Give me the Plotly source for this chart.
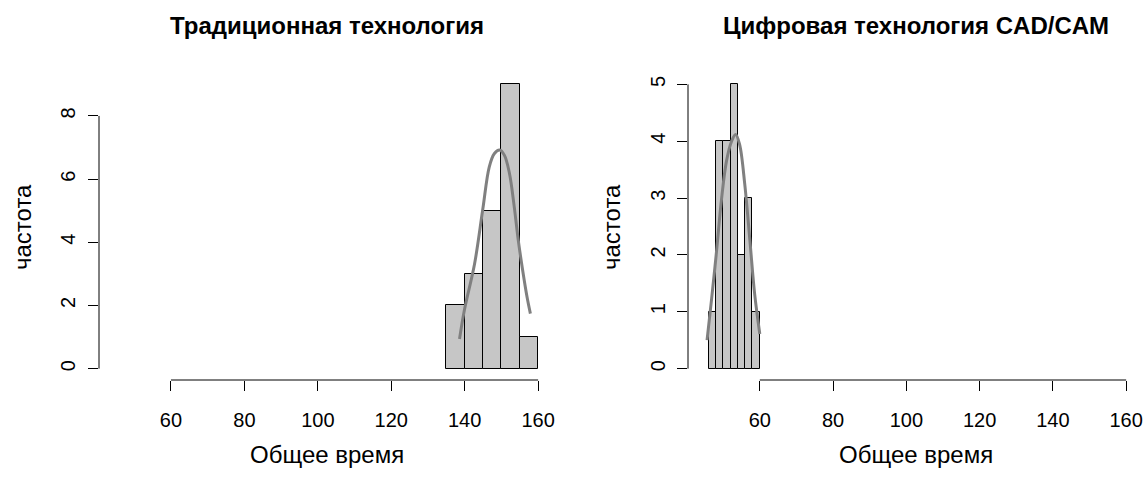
import plotly.graph_objects as go

# ---- data ----
trad_bin_centers = [137.5, 142.5, 147.5, 152.5, 157.5]
trad_counts = [2, 3, 5, 9, 1]
trad_bin_width = 5

cad_bin_centers = [47, 49, 51, 53, 55, 57, 59]
cad_counts = [1, 4, 4, 5, 2, 3, 1]
cad_bin_width = 2

trad_curve_x = [138.6, 139.9, 142.7, 144.9, 146.7, 148.1, 149.5, 150.8, 152.2, 153.5, 154.6, 155.8, 157.0, 157.9]
trad_curve_y = [0.94, 1.84, 3.32, 5.02, 6.39, 6.81, 6.92, 6.76, 6.18, 5.12, 4.06, 3.11, 2.26, 1.74]

cad_curve_x = [45.6, 46.8, 48.2, 49.5, 50.9, 52.3, 53.4, 54.5, 55.9, 57.3, 58.6, 60.0]
cad_curve_y = [0.50, 1.20, 2.07, 2.95, 3.65, 4.00, 4.12, 3.94, 3.24, 2.25, 1.31, 0.61]

x_ticks = [60, 80, 100, 120, 140, 160]
trad_y_ticks = [0, 2, 4, 6, 8]
cad_y_ticks = [0, 1, 2, 3, 4, 5]

titles = ["Традиционная технология", "Цифровая технология CAD/CAM"]
x_label = "Общее время"
y_label = "частота"

# ---- layout geometry ----
W, H = 1146, 477
FONT = "Liberation Sans, Arial, sans-serif"
BAR_COLOR = "#c6c6c6"
CURVE_COLOR = "#808080"
TICK_SIZE = 20
LABEL_SIZE = 24
TITLE_SIZE = 24

dom_y = [1 - 380 / H, 1 - 73 / H]
dom_x1 = [99 / W, 555 / W]
dom_x2 = [688 / W, 1143 / W]
x_range = [40.4, 164.6]

fig = go.Figure()

fig.add_trace(go.Bar(x=trad_bin_centers, y=trad_counts, width=trad_bin_width,
                     marker=dict(color=BAR_COLOR, line=dict(color="black", width=1)),
                     xaxis="x", yaxis="y", showlegend=False))
fig.add_trace(go.Scatter(x=trad_curve_x, y=trad_curve_y, mode="lines",
                         line=dict(color=CURVE_COLOR, width=3, shape="spline", smoothing=1),
                         xaxis="x", yaxis="y", showlegend=False))
fig.add_trace(go.Bar(x=cad_bin_centers, y=cad_counts, width=cad_bin_width,
                     marker=dict(color=BAR_COLOR, line=dict(color="black", width=1)),
                     xaxis="x2", yaxis="y2", showlegend=False))
fig.add_trace(go.Scatter(x=cad_curve_x, y=cad_curve_y, mode="lines",
                         line=dict(color=CURVE_COLOR, width=3, shape="spline", smoothing=1),
                         xaxis="x2", yaxis="y2", showlegend=False))

axis_common = dict(showgrid=False, zeroline=False, showline=False, ticks="outside",
                   ticklen=10, tickwidth=1, tickcolor="black",
                   tickfont=dict(family=FONT, size=TICK_SIZE, color="black"), fixedrange=True)

fig.update_layout(
    width=W, height=H, margin=dict(l=0, r=0, t=0, b=0),
    paper_bgcolor="white", plot_bgcolor="white", bargap=0,
    font=dict(family=FONT, size=16, color="black"),
    xaxis=dict(domain=dom_x1, range=x_range, tickvals=x_ticks, anchor="y",
               ticklabelstandoff=12, **axis_common),
    yaxis=dict(domain=dom_y, range=[-0.36, 9.36], tickvals=trad_y_ticks, tickangle=-90,
               anchor="x", ticklabelstandoff=5, **axis_common),
    xaxis2=dict(domain=dom_x2, range=x_range, tickvals=x_ticks, anchor="y2",
                ticklabelstandoff=12, **axis_common),
    yaxis2=dict(domain=dom_y, range=[-0.2, 5.2], tickvals=cad_y_ticks, tickangle=-90,
                anchor="x2", ticklabelstandoff=4, **axis_common),
)

# axis lines spanning only the tick range (R style)
for xr, yr, yt in [("x", "y", trad_y_ticks), ("x2", "y2", cad_y_ticks)]:
    fig.add_shape(type="line", xref=xr, yref=yr + " domain", x0=x_ticks[0], x1=x_ticks[-1],
                  y0=0, y1=0, line=dict(color="black", width=1))
    fig.add_shape(type="line", xref=xr + " domain", yref=yr, x0=0, x1=0,
                  y0=yt[0], y1=yt[-1], line=dict(color="black", width=1))

# titles and axis labels
for dom, title in [(dom_x1, titles[0]), (dom_x2, titles[1])]:
    cx = (dom[0] + dom[1]) / 2
    fig.add_annotation(text="<b>%s</b>" % title, x=cx, y=1 - 25 / H, xref="paper", yref="paper",
                       xanchor="center", yanchor="middle", showarrow=False,
                       font=dict(family=FONT, size=TITLE_SIZE, color="black"))
    fig.add_annotation(text=x_label, x=cx, y=1 - 454 / H, xref="paper", yref="paper",
                       xanchor="center", yanchor="middle", showarrow=False,
                       font=dict(family=FONT, size=LABEL_SIZE, color="black"))
    fig.add_annotation(text=y_label, x=(dom[0] * W - 76) / W, y=1 - 227 / H, xref="paper",
                       yref="paper", xanchor="center", yanchor="middle", textangle=-90,
                       showarrow=False, font=dict(family=FONT, size=LABEL_SIZE, color="black"))

fig.write_html("out.html", config={"displayModeBar": False},
               post_script="document.body.style.margin='0';")
